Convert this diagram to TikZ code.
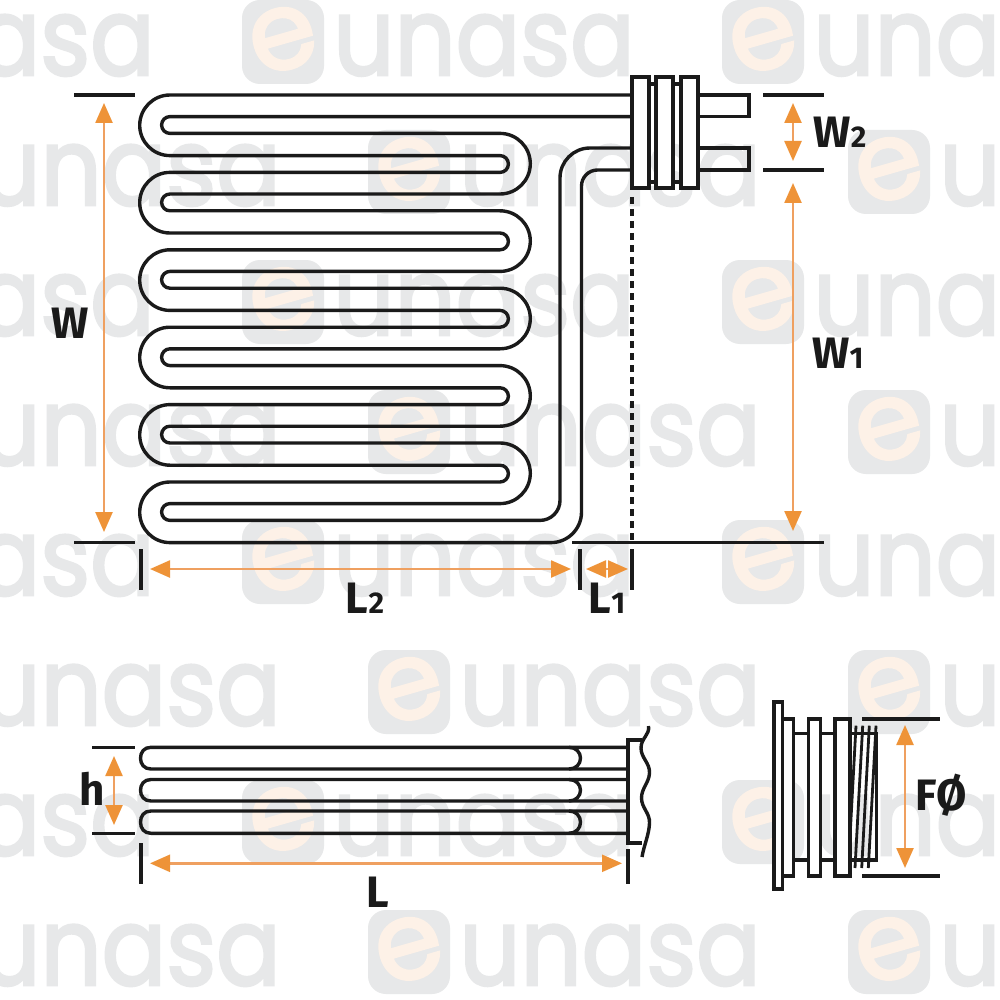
\documentclass[tikz,border=0pt]{standalone}
\usepackage{fontspec}
\usetikzlibrary{arrows.meta}
\newfontfamily\lblfont{Fira Sans}
\newfontfamily\wmfont{Poppins}[FakeBold=2.6]
\definecolor{ink}{HTML}{1A1A1A}
\definecolor{dimorange}{HTML}{EE9338}
\definecolor{dimshaft}{HTML}{EFA060}
\definecolor{wmgray}{HTML}{E7E8E9}
\definecolor{wmorange}{HTML}{FDF1E7}
\tikzset{
  line/.style={draw=ink,line width=1.7pt},
  dimline/.style={draw=ink,line width=1.6pt},
  dimboth/.style={draw=dimshaft,line width=1.2pt,{Triangle[length=10pt,width=8.5pt,color=dimorange]}-{Triangle[length=10pt,width=8.5pt,color=dimorange]}},
  plate/.style={draw=ink,line width=1.7pt,fill=white},
  lbl/.style={font=\lblfont\fontsize{22}{22}\selectfont\bfseries,text=ink,inner sep=0pt,anchor=base},
}
\newcommand{\lsub}[1]{{\fontsize{15}{15}\selectfont #1}}
\newcommand{\wmark}[2]{%
  \fill[wmgray,rounded corners=9pt] (#1,#2) rectangle ++(82,84);
  \node[inner sep=0pt,rotate=16,text=wmorange,font=\wmfont\fontsize{54}{54}\selectfont] (e#1x#2) at (#1+41,#2+39) {e};
  \node[inner sep=0pt,anchor=base west,text=wmgray,font=\wmfont\fontsize{54}{54}\selectfont,xscale=.885] (u#1x#2) at (#1+91,#2+75) {unasa};
}
\begin{document}
\begin{tikzpicture}[x=0.5pt,y=-0.5pt]
\useasboundingbox (0,0) rectangle (1000,1000);
\clip (0,0) rectangle (1000,1000);
\fill[white] (0,0) rectangle (1000,1000);
% watermarks
\foreach \yy in {0,260,520,780}{
  \wmark{-238}{\yy}\wmark{242}{\yy}\wmark{722}{\yy}
}
\foreach \yy in {130,390,650,910}{
  \wmark{-112}{\yy}\wmark{368}{\yy}\wmark{848}{\yy}
}
% serpentine tube, first outline
\draw[line] (632,95) -- (170,95) arc[start angle=270,end angle=90,radius=30.3]
  -- ++(330,0) arc[start angle=-90,end angle=90,radius=8.4] -- ++(-330,0) arc[start angle=270,end angle=90,radius=30.3]
  -- ++(330,0) arc[start angle=-90,end angle=90,radius=8.4] -- ++(-330,0) arc[start angle=270,end angle=90,radius=30.3]
  -- ++(330,0) arc[start angle=-90,end angle=90,radius=8.4] -- ++(-330,0) arc[start angle=270,end angle=90,radius=30.3]
  -- ++(330,0) arc[start angle=-90,end angle=90,radius=8.4] -- ++(-330,0) arc[start angle=270,end angle=90,radius=30.3]
  -- ++(330,0) arc[start angle=-90,end angle=90,radius=8.4] -- ++(-330,0) arc[start angle=270,end angle=90,radius=30.3]
  -- (551,542.6) arc[start angle=90,end angle=0,radius=30.5]
  -- (581.5,186) arc[start angle=180,end angle=270,radius=16] -- (632,170);
% second outline
\draw[line] (632,116.6) -- (170,116.6) arc[start angle=270,end angle=90,radius=8.4]
  -- ++(330,0) arc[start angle=-90,end angle=90,radius=30.3] -- ++(-330,0) arc[start angle=270,end angle=90,radius=8.4]
  -- ++(330,0) arc[start angle=-90,end angle=90,radius=30.3] -- ++(-330,0) arc[start angle=270,end angle=90,radius=8.4]
  -- ++(330,0) arc[start angle=-90,end angle=90,radius=30.3] -- ++(-330,0) arc[start angle=270,end angle=90,radius=8.4]
  -- ++(330,0) arc[start angle=-90,end angle=90,radius=30.3] -- ++(-330,0) arc[start angle=270,end angle=90,radius=8.4]
  -- ++(330,0) arc[start angle=-90,end angle=90,radius=30.3] -- ++(-330,0) arc[start angle=270,end angle=90,radius=8.4]
  -- (540,520.4) arc[start angle=90,end angle=0,radius=20]
  -- (560,178) arc[start angle=180,end angle=270,radius=30] -- (632,148);
% terminals and flanges
\draw[line] (698,95) -- (749,95) -- (749,116.6) -- (698,116.6);
\draw[line] (698,148) -- (749,148) -- (749,170) -- (698,170);
\draw[line] (649,84) -- (681,84) (649,182) -- (681,182);
\draw[plate] (632,77) rectangle (649,188);
\draw[plate] (656,77) rectangle (673,188);
\draw[plate] (681,77) rectangle (698,188);
\draw[ink,line width=1.6pt,dash pattern=on 3.5pt off 2.5pt] (632,197) -- (632,540);
% dimension lines, top view
\draw[dimline] (74,95) -- (135,95) (74,542.6) -- (135,542.6);
\draw[dimline] (763,95) -- (824,95) (763,170) -- (824,170) (572,542.6) -- (824,542.6);
\draw[dimline] (141,549) -- (141,590) (580,549) -- (580,590) (632,549) -- (632,590);
\draw[dimboth] (104,103) -- (104,532);
\draw[dimboth] (793,103) -- (793,161);
\draw[dimboth] (793,183) -- (793,531);
\draw[dimboth] (150,569) -- (571,569);
\draw[dimboth] (586,569) -- (628,569);
% side view
\foreach \a/\b in {747.3/769,779.5/801,811/833.3}{
  \draw[line] (628,\a) -- (151,\a) .. controls (144,\a) and (140.5,\a+5) .. (140.5,{(\a+\b)/2})
     .. controls (140.5,\b-5) and (144,\b) .. (151,\b) -- (628,\b);
  \draw[line] (569,\a) .. controls (576,\a) and (580.5,\a+5) .. (580.5,{(\a+\b)/2})
     .. controls (580.5,\b-5) and (576,\b) .. (569,\b);
}
\draw[ink,line width=2pt] (642,739.7) -- (628,739.7) -- (628,842.7) -- (642,842.7);
\draw[line] (648.5,726) .. controls (650,735) and (641,738) .. (641,748)
   .. controls (641,758) and (650,763) .. (649.5,773)
   .. controls (649,783) and (641.5,788) .. (641.5,798)
   .. controls (641.5,808) and (650,813) .. (649.5,823)
   .. controls (649,835) and (644,845) .. (642,857);
\draw[dimline] (92,747.3) -- (135,747.3) (92,833.3) -- (135,833.3);
\draw[dimline] (141,843) -- (141,884) (628,849) -- (628,884);
\draw[dimboth] (114,756) -- (114,825);
\draw[dimboth] (150,863.3) -- (622,863.3);
% end view
\draw[line] (793,733.3) -- (808,733.3) (820.7,733.3) -- (835,733.3) (793,860) -- (808,860) (820.7,860) -- (835,860);
\draw[plate] (774,702) rectangle (782.7,889);
\draw[plate] (782.7,719) rectangle (793.3,876);
\draw[plate] (808.3,719) rectangle (820.7,876);
\draw[plate] (835,719) rectangle (850,876);
\draw[line] (850,733.3) -- (876.7,733.3) -- (876.7,860) -- (850,860);
\draw[ink,line width=1.4pt] (856,725.7) -- (850,837) (862.7,725.7) -- (855,868) (869.3,725.7) -- (861.7,868) (876,725.7) -- (868.3,868);
\draw[dimline] (862,719) -- (940,719) (862,876) -- (940,876);
\draw[dimboth] (905,725) -- (905,868);
% labels
\node[lbl] (lw) at (70,338) {W};
\node[lbl] (ll2) at (365,613) {L\lsub{2}};
\node[lbl] (ll1) at (607,613) {L\lsub{1}};
\node[lbl] (lw2) at (840,148) {W\lsub{2}};
\node[lbl] (lw1) at (838,368) {W\lsub{1}};
\node[lbl] (lh) at (92,805) {h};
\node[lbl] (ll) at (378,907) {L};
\node[lbl] (lf) at (941,810) {F\O};
\end{tikzpicture}
\end{document}
